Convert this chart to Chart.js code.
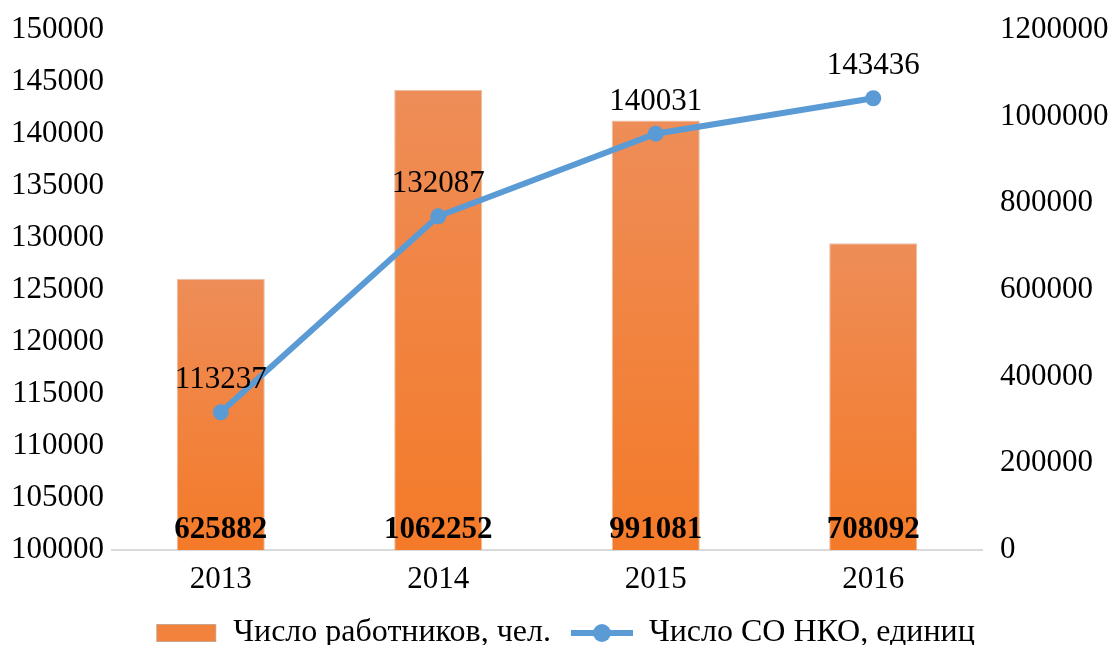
<!DOCTYPE html>
<html>
<head>
<meta charset="utf-8">
<script src="https://cdn.jsdelivr.net/npm/chart.js@4.4.1/dist/chart.umd.min.js"></script>
<style>
  html, body { margin: 0; padding: 0; background: #fff; overflow: hidden; }
  #wrap { width: 1116px; height: 659px; }
</style>
</head>
<body>
<div id="wrap"><canvas id="chart"></canvas></div>
<script>
// chart data
const years = ['2013', '2014', '2015', '2016'];
const workers = [625882, 1062252, 991081, 708092];   // Число работников, чел. (right axis)
const nkoCount = [113237, 132087, 140031, 143436];   // Число СО НКО, единиц (left axis)
const leftRange = [100000, 150000, 5000];
const rightRange = [0, 1200000, 200000];

const FONT = 'Liberation Serif, Times New Roman, serif';
const BLUE = '#5B9BD5';

// legend symbols (left side kept transparent to space out the items)
function barSymbol() {
    const c = document.createElement('canvas');
    c.width = 76; c.height = 20;
    const g = c.getContext('2d');
    g.fillStyle = '#F3823C';
    g.fillRect(15, 1, 60, 18);
    g.strokeStyle = '#C9A58C';
    g.lineWidth = 1;
    g.strokeRect(15.5, 1.5, 59, 17);
    return c;
}
function lineSymbol() {
    const c = document.createElement('canvas');
    c.width = 76; c.height = 22;
    const g = c.getContext('2d');
    g.strokeStyle = BLUE;
    g.lineWidth = 6;
    g.beginPath(); g.moveTo(14, 11); g.lineTo(76, 11); g.stroke();
    g.fillStyle = BLUE;
    g.beginPath(); g.arc(45, 11, 9, 0, Math.PI * 2); g.fill();
    return c;
}

// gradient for each bar, lighter on top
function barFill(context) {
    const chart = context.chart;
    if (!chart.chartArea || context.parsed === undefined) return '#F3823C';
    const yScale = chart.scales.y1;
    const top = yScale.getPixelForValue(context.parsed.y);
    const bottom = yScale.getPixelForValue(0);
    if (!isFinite(top) || !isFinite(bottom) || top === bottom) return '#F3823C';
    const grad = chart.ctx.createLinearGradient(0, top, 0, bottom);
    grad.addColorStop(0, '#EE8D58');
    grad.addColorStop(1, '#F47A28');
    return grad;
}

// value labels
const valueLabels = {
    id: 'valueLabels',
    afterDatasetsDraw(chart) {
        const ctx = chart.ctx;
        ctx.save();
        ctx.textAlign = 'center';
        ctx.textBaseline = 'middle';
        ctx.fillStyle = '#000';

        const barMeta = chart.getDatasetMeta(0);
        ctx.font = 'bold 31px ' + FONT;
        barMeta.data.forEach((el, i) => {
            ctx.fillText(String(workers[i]), el.x, chart.scales.x.top - 20);
        });

        const lineMeta = chart.getDatasetMeta(1);
        ctx.font = '31px ' + FONT;
        lineMeta.data.forEach((el, i) => {
            ctx.fillText(String(nkoCount[i]), el.x, el.y - 32);
        });
        ctx.restore();
    }
};

const ctx = document.getElementById('chart').getContext('2d');
new Chart(ctx, {
    type: 'bar',
    data: {
        labels: years,
        datasets: [
            {
                type: 'bar',
                label: 'Число работников, чел.',
                data: workers,
                yAxisID: 'y1',
                backgroundColor: barFill,
                borderColor: '#E2C2AE',
                borderWidth: 1,
                barPercentage: 0.405,
                categoryPercentage: 1,
                order: 2
            },
            {
                type: 'line',
                label: 'Число СО НКО, единиц',
                data: nkoCount,
                yAxisID: 'y',
                borderColor: BLUE,
                backgroundColor: BLUE,
                borderWidth: 6,
                pointRadius: 8,
                pointBackgroundColor: BLUE,
                pointBorderWidth: 0,
                tension: 0,
                order: 1
            }
        ]
    },
    options: {
        responsive: true,
        maintainAspectRatio: false,
        animation: false,
        layout: { padding: { top: 30, bottom: 0, left: 0, right: 0 } },
        plugins: {
            tooltip: { enabled: false },
            legend: {
                position: 'bottom',
                labels: {
                    usePointStyle: true,
                    pointStyleWidth: 76,
                    padding: 6,
                    color: '#000',
                    font: { family: FONT, size: 32 },
                    generateLabels(chart) {
                        return chart.data.datasets.map((ds, i) => ({
                            text: ds.label,
                            pointStyle: i === 0 ? barSymbol() : lineSymbol(),
                            fillStyle: 'transparent',
                            strokeStyle: 'transparent',
                            lineWidth: 0,
                            datasetIndex: i,
                            fontColor: '#000'
                        }));
                    }
                }
            }
        },
        scales: {
            x: {
                grid: { display: false },
                border: { display: true, color: '#D9D9D9', width: 2 },
                ticks: { color: '#000', font: { family: FONT, size: 31 }, padding: 3 },
                afterFit(axis) { axis.height = 61; }
            },
            y: {
                position: 'left',
                min: leftRange[0],
                max: leftRange[1],
                grid: { display: false },
                border: { display: false },
                ticks: {
                    stepSize: leftRange[2],
                    color: '#000',
                    padding: 0,
                    font: { family: FONT, size: 31 },
                    callback: v => String(v)
                },
                afterFit(axis) { axis.width = 112; }
            },
            y1: {
                position: 'right',
                min: rightRange[0],
                max: rightRange[1],
                grid: { display: false },
                border: { display: false },
                ticks: {
                    stepSize: rightRange[2],
                    color: '#000',
                    padding: 10,
                    font: { family: FONT, size: 31 },
                    callback: v => String(v)
                },
                afterFit(axis) { axis.width = 134; }
            }
        }
    },
    plugins: [valueLabels]
});
</script>
</body>
</html>
